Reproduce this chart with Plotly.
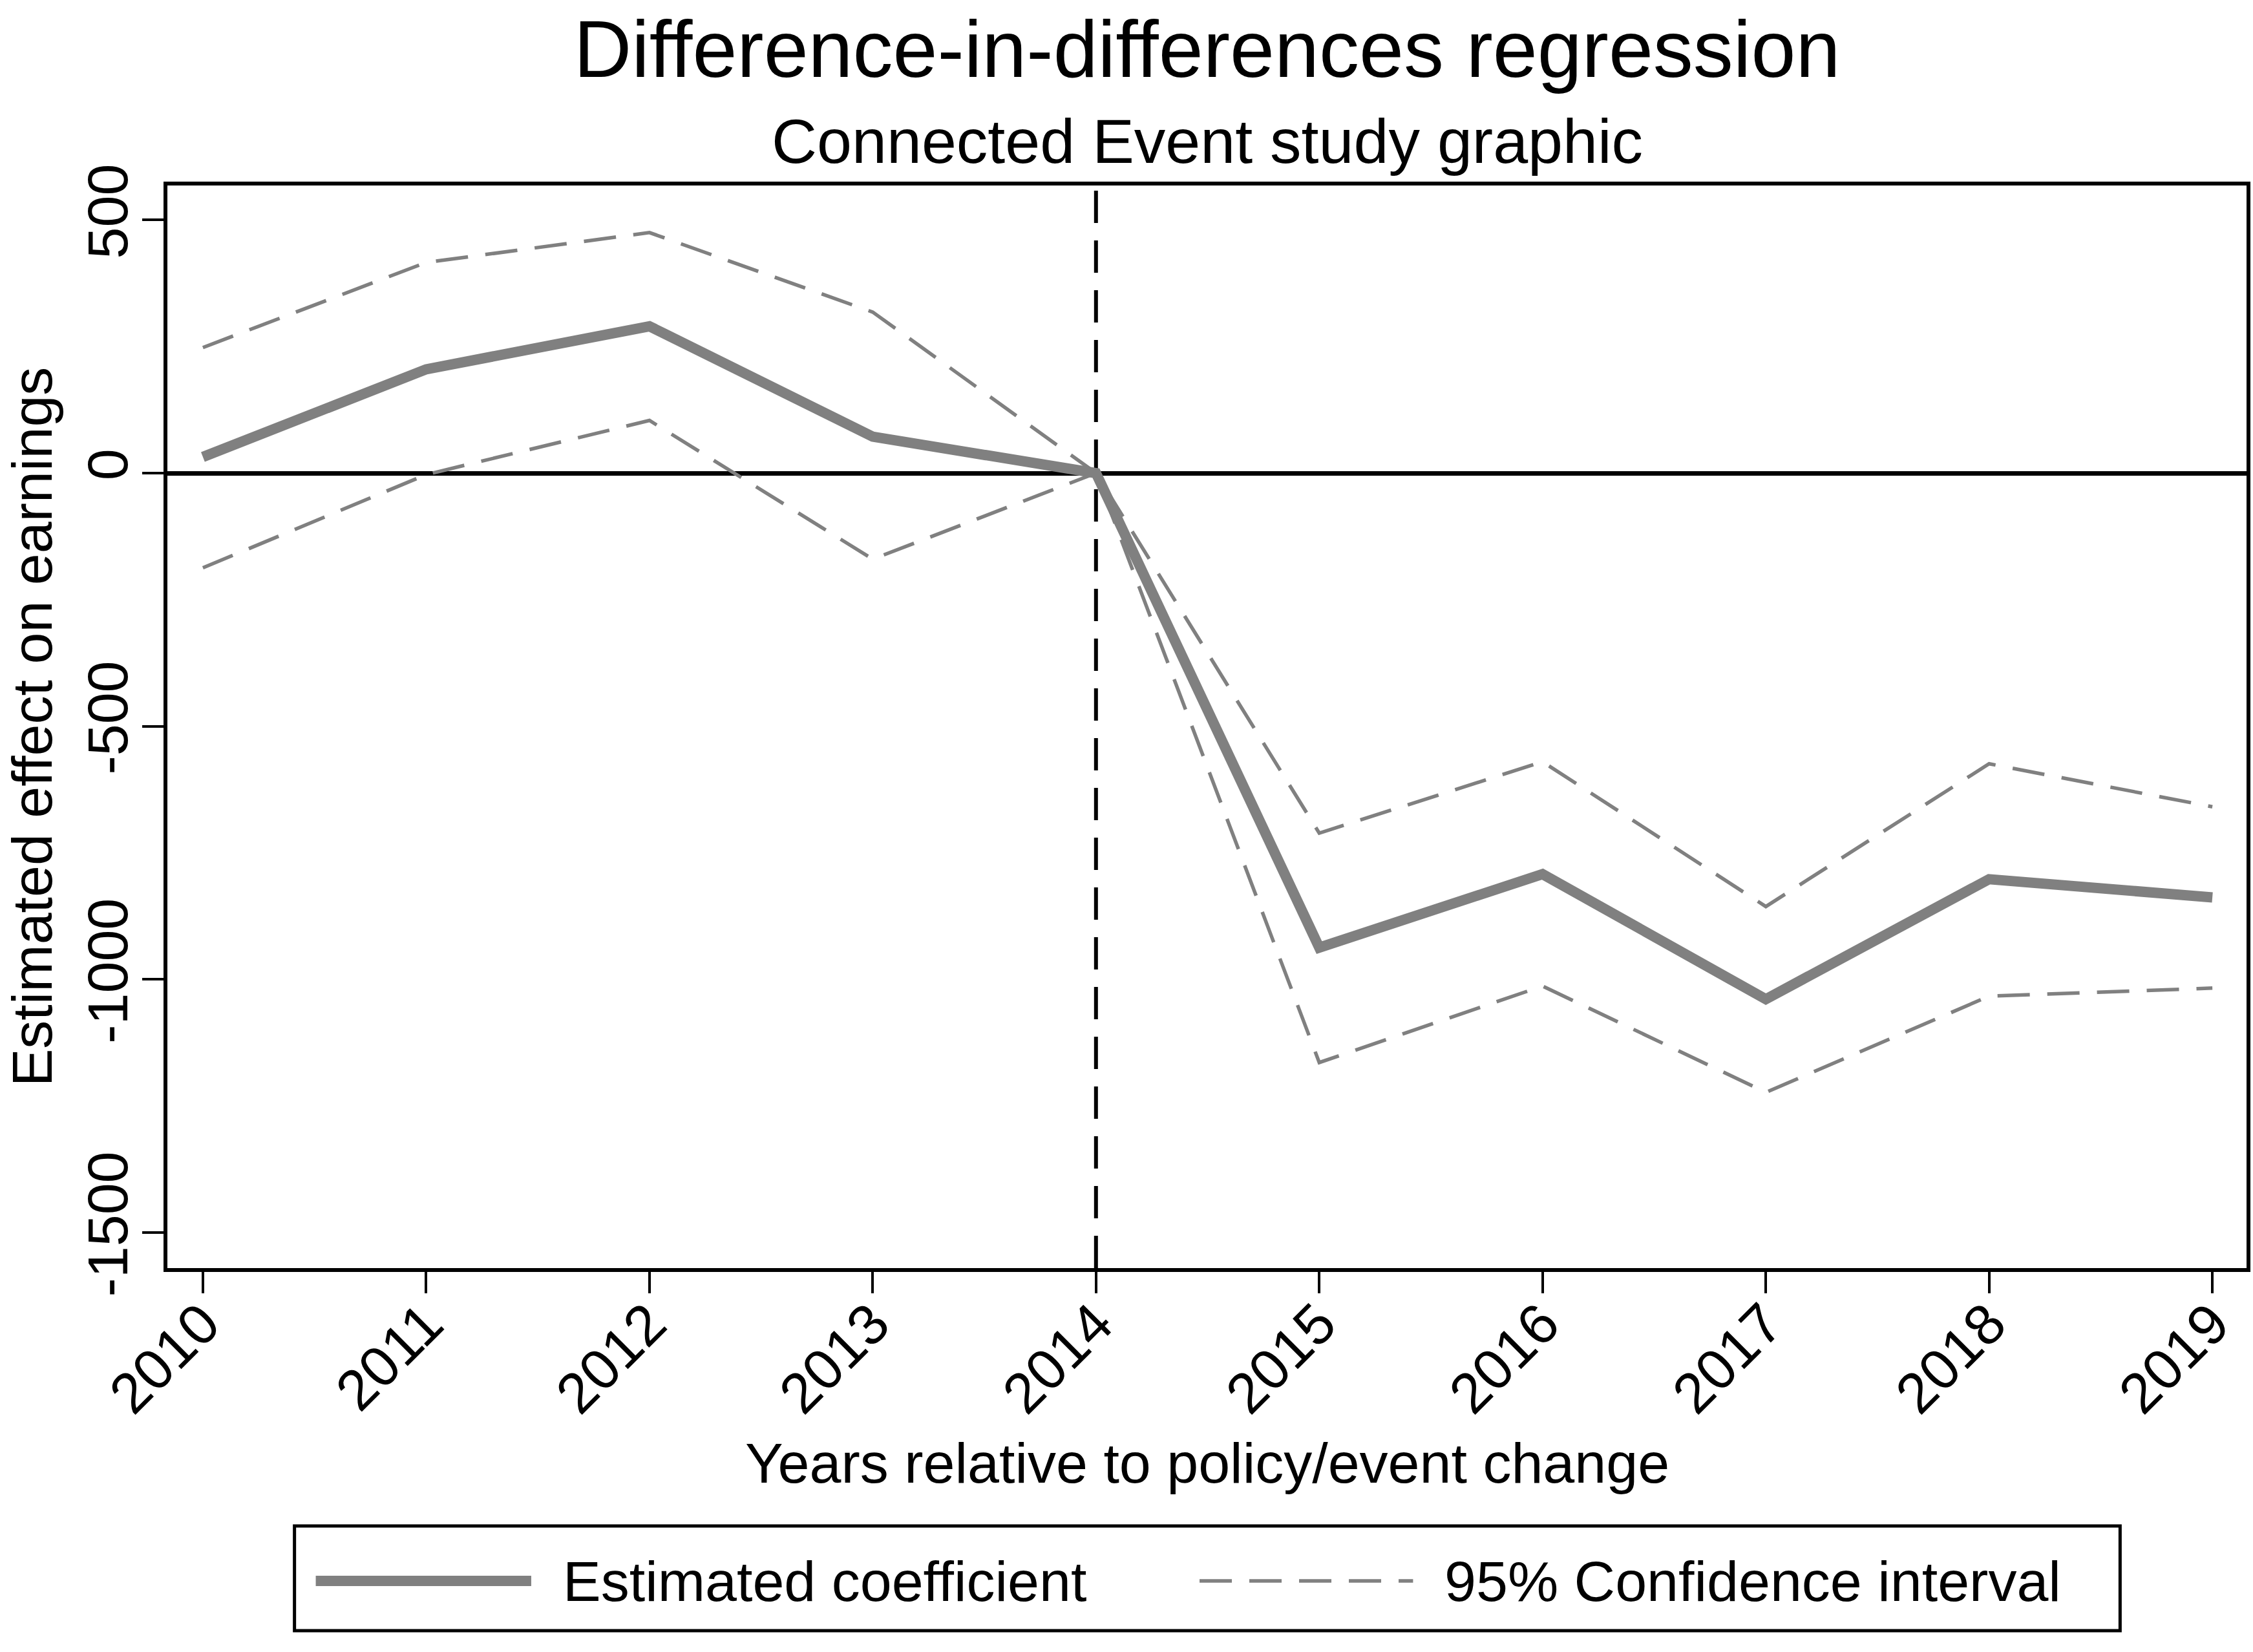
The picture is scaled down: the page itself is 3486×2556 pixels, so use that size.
import plotly.graph_objects as go

# event study estimates read off the original graphic
years = [2010, 2011, 2012, 2013, 2014, 2015, 2016, 2017, 2018, 2019]
coef = [32, 205, 290, 72, 0, -937, -792, -1039, -802, -838]
ci_upper = [248, 416, 475, 318, 0, -711, -570, -856, -574, -659]
ci_lower = [-187, -3, 104, -170, 0, -1164, -1013, -1223, -1033, -1017]
event_year = 2014
y_ticks = [-1500, -1000, -500, 0, 500]
y_ticktext = ["-1500", "-1000", "-500", "0", "500"]

W, H = 3486, 2556
L, R, T, B = 259, 4, 287, 594
FONT = "Liberation Sans, Arial, Helvetica, sans-serif"
GRAY = "#808080"


def px_x(x):
    return (x - L) / (W - L - R)


def px_y(y):
    return (H - B - y) / (H - B - T)


fig = go.Figure()

fig.add_trace(go.Scatter(x=years, y=ci_upper, mode="lines", name="95% Confidence interval",
                         line=dict(color=GRAY, width=5.5, dash="50px,27px"), showlegend=False))
fig.add_trace(go.Scatter(x=years, y=ci_lower, mode="lines", name="95% Confidence interval",
                         line=dict(color=GRAY, width=5.5, dash="50px,27px"), showlegend=False))
fig.add_trace(go.Scatter(x=years, y=coef, mode="lines", name="Estimated coefficient",
                         line=dict(color=GRAY, width=16), showlegend=False))

# event line
fig.add_shape(type="line", xref="x", yref="paper", x0=event_year, x1=event_year, y0=0, y1=1,
              line=dict(color="black", width=6, dash="50px,27px"), layer="below")

# legend drawn by hand so the line samples are as long as in the original
fig.add_shape(type="rect", xref="paper", yref="paper",
              x0=px_x(456), x1=px_x(3286), y0=px_y(2361), y1=px_y(2523),
              line=dict(color="black", width=5), fillcolor="white")
fig.add_shape(type="line", xref="paper", yref="paper",
              x0=px_x(489), x1=px_x(823), y0=px_y(2446), y1=px_y(2446),
              line=dict(color=GRAY, width=16))
fig.add_shape(type="line", xref="paper", yref="paper",
              x0=px_x(1859), x1=px_x(2190), y0=px_y(2446), y1=px_y(2446),
              line=dict(color=GRAY, width=5.5, dash="50px,27px"))
fig.add_annotation(text="Estimated coefficient", xref="paper", yref="paper",
                   x=px_x(870), y=px_y(2446), xanchor="left", yanchor="middle",
                   showarrow=False, font=dict(size=88, color="black", family=FONT))
fig.add_annotation(text="95% Confidence interval", xref="paper", yref="paper",
                   x=px_x(2237), y=px_y(2446), xanchor="left", yanchor="middle",
                   showarrow=False, font=dict(size=88, color="black", family=FONT))

fig.add_annotation(text="Connected Event study graphic", xref="paper", yref="paper",
                   x=0.5, y=px_y(218), xanchor="center", yanchor="middle",
                   showarrow=False, font=dict(size=97, color="black", family=FONT))
fig.add_annotation(text="Years relative to policy/event change", xref="paper", yref="paper",
                   x=0.5, y=px_y(2263), xanchor="center", yanchor="middle",
                   showarrow=False, font=dict(size=88, color="black", family=FONT))

axis_common = dict(showline=True, linecolor="black", linewidth=6, mirror=True,
                   ticks="outside", ticklen=33, tickwidth=4, tickcolor="black",
                   showgrid=False, tickfont=dict(size=88, color="black", family=FONT))

fig.update_xaxes(range=[2009.841, 2019.153], tickvals=years, ticktext=[str(y) for y in years],
                 tickangle=-45, zeroline=False, ticklabelstandoff=-40, **axis_common)
fig.update_yaxes(range=[-1570, 568], tickvals=y_ticks, ticktext=y_ticktext,
                 tickangle=-90, zeroline=True, zerolinecolor="black", zerolinewidth=7,
                 ticklabelstandoff=-12,
                 title=dict(text="Estimated effect on earnings", standoff=16,
                            font=dict(size=88, color="black", family=FONT)),
                 **axis_common)

fig.update_layout(
    width=W, height=H,
    margin=dict(l=L, r=R, t=T, b=B),
    paper_bgcolor="white", plot_bgcolor="white",
    title=dict(text="Difference-in-differences regression", xref="paper", x=0.5, xanchor="center",
               yref="container", y=1 - 76 / H, yanchor="middle",
               font=dict(size=124, color="black", family=FONT)),
    font=dict(family=FONT, color="black"),
)

fig.write_html("out.html", config={"displayModeBar": False},
               post_script="document.body.style.margin='0px';")
